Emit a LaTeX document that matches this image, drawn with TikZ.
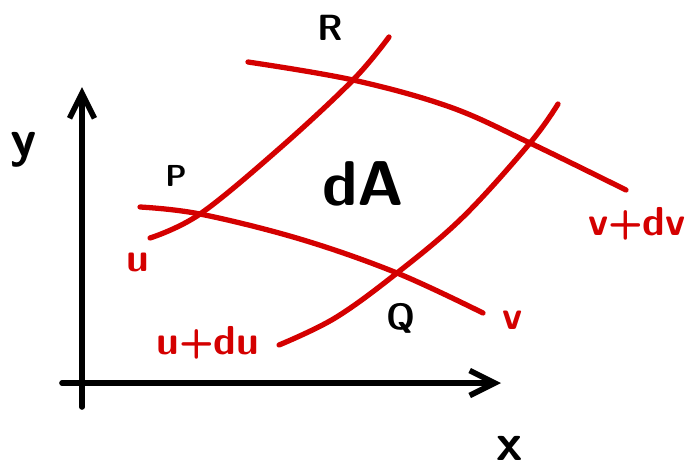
\documentclass[tikz,border=0pt]{standalone}
\usepackage{tikz}
\usetikzlibrary{arrows.meta}
\definecolor{sketchred}{RGB}{212,0,0}
\tikzset{
  axisln/.style={-{Straight Barb[length=5mm,width=5mm]}, line width=3.2pt, line cap=round, line join=round, black},
  curveln/.style={line width=3pt, line cap=round, line join=round, sketchred},
  ptlabel/.style={font=\sffamily\bfseries\huge, black},
  axlabel/.style={font=\sffamily\bfseries\fontsize{30}{30}\selectfont, black},
  curvelabel/.style={font=\sffamily\bfseries\fontsize{23}{23}\selectfont, sketchred},
}

\begin{document}
\begin{tikzpicture}[x=0.02cm,y=-0.02cm]
    \useasboundingbox (0,0) rectangle (699,471);
    % axes
    \draw[axisln] (82,407) -- (82,87);
    \draw[axisln] (62,383) -- (501,383);
    \node[axlabel] (ylab) at (24,150) {y};
    \node[axlabel] (xlab) at (510,448) {x};
    % curve u
    \draw[curveln] plot[smooth, tension=0.6] coordinates {(150,238) (200,214) (280,148) (353,80) (389,37)};
    % curve u+du
    \draw[curveln] plot[smooth, tension=0.6] coordinates {(279,345) (335,318) (397,273) (463,217) (530,143) (558,104)};
    % curve v
    \draw[curveln] plot[smooth, tension=0.6] coordinates {(140,207) (200,214) (300,239) (397,273) (483,313)};
    % curve v+dv
    \draw[curveln] plot[smooth, tension=0.6] coordinates {(248,62) (353,80) (450,107) (530,143) (626,190)};
    % corner points and area element
    \node[ptlabel] (R) at (330,28) {R};
    \node[ptlabel, font=\sffamily\bfseries\LARGE] (P) at (176,176) {P};
    \node[ptlabel] (Q) at (401,318) {Q};
    \node[font=\sffamily\bfseries\fontsize{36}{36}\selectfont] (dA) at (363,184) {dA};
    % curve labels
    \node[curvelabel] (ulab) at (138,262) {u};
    \node[curvelabel] (udulab) at (208,343) {u+du};
    \node[curvelabel] (vlab) at (513,320) {v};
    \node[curvelabel] (vdvlab) at (637,224) {v+dv};
\end{tikzpicture}
\end{document}
